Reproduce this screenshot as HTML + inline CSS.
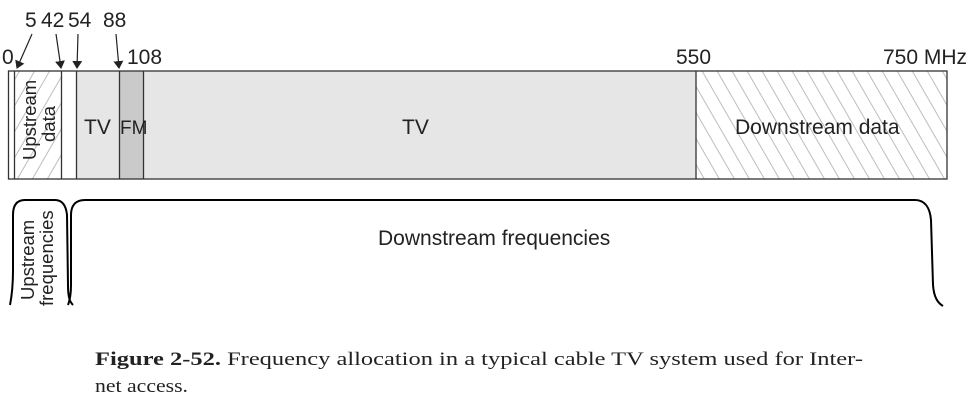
<!DOCTYPE html>
<html><head><meta charset="utf-8"><style>body{margin:0;background:#fff}svg{display:block}.s{font-family:"Liberation Sans",sans-serif}.r{font-family:"Liberation Serif",serif}</style></head><body>
<svg width="978" height="402" viewBox="0 0 978 402" xmlns="http://www.w3.org/2000/svg">
<defs>
<pattern id="hl" width="13" height="13" patternUnits="userSpaceOnUse" patternTransform="rotate(30)"><line x1="0" y1="0" x2="0" y2="13" stroke="#bdbdbd" stroke-width="2"/></pattern>
<pattern id="hr" width="13" height="13" patternUnits="userSpaceOnUse" patternTransform="rotate(-30)"><line x1="0" y1="0" x2="0" y2="13" stroke="#bdbdbd" stroke-width="2"/></pattern>
<marker id="a" markerWidth="8" markerHeight="10" refX="7" refY="5" orient="auto" markerUnits="userSpaceOnUse"><path d="M0,0 L8,5 L0,10 z" fill="#222"/></marker>
</defs>
<rect x="14" y="71" width="47" height="108" fill="url(#hl)"/>
<rect x="76" y="71" width="43" height="108" fill="#e6e6e6"/>
<rect x="119" y="71" width="24" height="108" fill="#cacaca"/>
<rect x="143" y="71" width="553" height="108" fill="#e6e6e6"/>
<rect x="696" y="71" width="251" height="108" fill="url(#hr)"/>
<rect x="8.5" y="71" width="938.5" height="108" fill="none" stroke="#333" stroke-width="1.3"/>
<g stroke="#333" stroke-width="1.3">
<line x1="14.5" y1="71" x2="14.5" y2="179"/><line x1="61.5" y1="71" x2="61.5" y2="179"/><line x1="76.5" y1="71" x2="76.5" y2="179"/><line x1="119.5" y1="71" x2="119.5" y2="179"/><line x1="143.5" y1="71" x2="143.5" y2="179"/><line x1="696" y1="71" x2="696" y2="179"/>
</g>
<g stroke="#222" stroke-width="1.2" marker-end="url(#a)">
<line x1="32" y1="34" x2="17" y2="68"/><line x1="56" y1="34" x2="61" y2="68"/><line x1="78" y1="34" x2="77" y2="68"/><line x1="116" y1="34" x2="119" y2="68"/>
</g>
<g class="s" font-size="21" fill="#222">
<text x="25" y="27">5</text><text x="41" y="27">42</text><text x="68" y="27">54</text><text x="103" y="27">88</text>
<text x="2" y="64">0</text><text x="127" y="64">108</text><text x="676" y="64">550</text><text x="883" y="64">750 MHz</text>
<text x="84" y="134">TV</text><text x="120" y="134" font-size="19">FM</text><text x="402" y="134">TV</text><text x="735" y="134">Downstream data</text>
<text x="378" y="245">Downstream frequencies</text>
<text transform="translate(36,160) rotate(-90)" font-size="18.5">Upstream</text>
<text transform="translate(55,142) rotate(-90)" font-size="18.5">data</text>
<text transform="translate(34,300) rotate(-90)" font-size="18.5">Upstream</text>
<text transform="translate(53,306) rotate(-90)" font-size="18.5">frequencies</text>
</g>
<g fill="none" stroke="#000" stroke-width="2">
<path d="M10,305 C12,295 13,285 13,270 L13,215 C13,205 17,200 25,200 L55,200 C62,200 66,205 67,215 L68,285 C68,298 70,302 73,305"/>
<path d="M68,305 C70,300 71,295 71,285 L71,215 C71,205 76,200 85,200 L915,200 C925,200 930,208 931,220 L933,285 C934,298 938,303 943,306"/>
</g>
<g class="r" font-size="19" fill="#222">
<text x="95" y="365" textLength="768" lengthAdjust="spacingAndGlyphs"><tspan font-weight="bold">Figure 2-52.</tspan> Frequency allocation in a typical cable TV system used for Inter-</text>
<text x="95" y="392" textLength="93" lengthAdjust="spacingAndGlyphs">net access.</text>
</g>
</svg>
</body></html>
